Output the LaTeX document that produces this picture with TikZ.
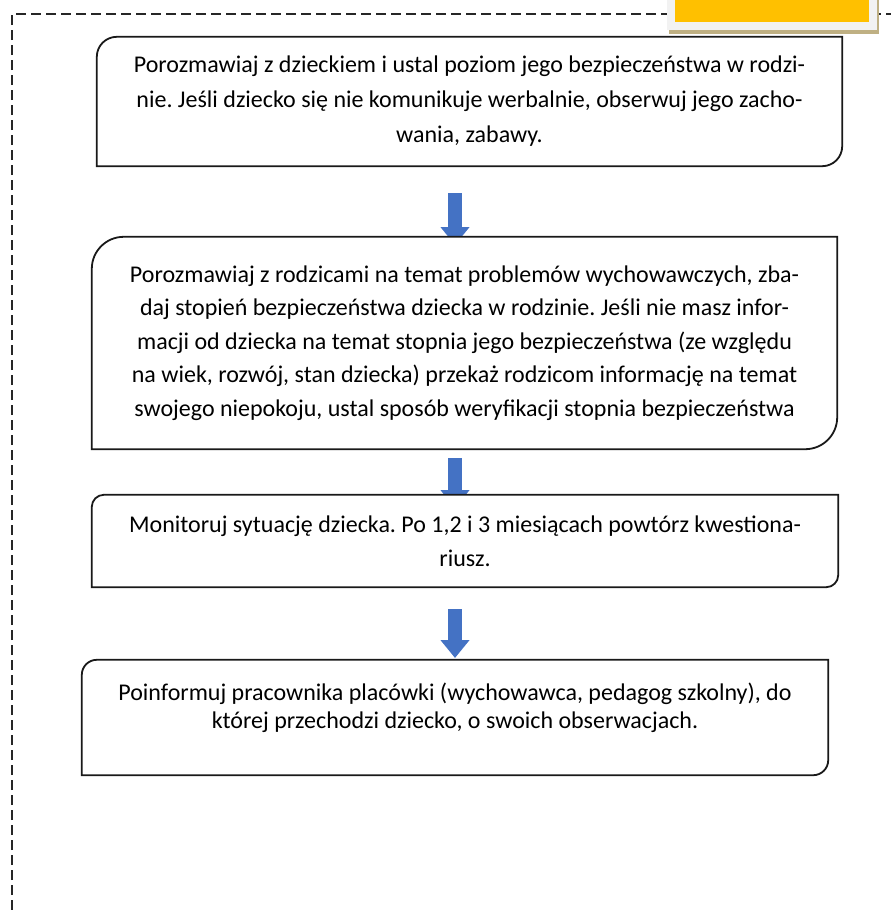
\documentclass[tikz,border=0pt]{standalone}
\usepackage{fontspec}
\setmainfont{Carlito}
\frenchspacing
\usetikzlibrary{arrows.meta,shadows}
\definecolor{tabyellow}{HTML}{FFC000}
\definecolor{tabgray}{HTML}{F2F2F2}
\definecolor{tabshadow}{HTML}{BFB083}
\definecolor{flowblue}{HTML}{4472C4}
\begin{document}
\begin{tikzpicture}[x=1pt,y=-1pt,
    stepbox/.style={text=black, align=center, fill=white, inner sep=0pt, minimum width=745pt},
    boxline/.style={draw=black!90, line width=1.8pt},
    flow/.style={flowblue, line width=14pt, -{Triangle[length=18pt,width=28pt]}},
    frameline/.style={draw=black!85, line width=1.8pt, dash pattern=on 10pt off 5pt},
    tabnode/.style={fill=tabyellow, draw=tabgray, line width=8pt, inner sep=0pt,
      minimum width=202pt, minimum height=36pt,
      drop shadow={shadow xshift=2pt, shadow yshift=-4pt, fill=tabshadow, draw=tabshadow, line width=8pt, opacity=1}}]
    \useasboundingbox (0,0) rectangle (891,910);
    \draw[frameline] (12,910) -- (12,14) -- (891,14);
    \node[tabnode] (tab) at (772,8) {};
    \coordinate (a1s) at (455,193);
    \coordinate (a1e) at (455,245);
    \coordinate (a2s) at (455,458);
    \coordinate (a2e) at (455,508);
    \coordinate (a3s) at (455,609);
    \coordinate (a3e) at (455,658);
    \path%
      (a1s) edge [flow] (a1e)
      (a2s) edge [flow] (a2e)
      (a3s) edge [flow] (a3e);
    \node[stepbox, minimum height=129pt, font=\fontsize{24pt}{35pt}\selectfont] (b1) at (469.5,101.5)
      {Porozmawiaj z dzieckiem i ustal poziom jego bezpieczeństwa w rodzi-\\nie. Jeśli dziecko się nie komunikuje werbalnie, obserwuj jego zacho-\\wania, zabawy.};
    \node[stepbox, minimum height=212pt, font=\fontsize{24pt}{33.5pt}\selectfont] (b2) at (464.5,343)
      {Porozmawiaj z rodzicami na temat problemów wychowawczych, zba-\\daj stopień bezpieczeństwa dziecka w rodzinie. Jeśli nie masz infor-\\macji od dziecka na temat stopnia jego bezpieczeństwa (ze względu\\na wiek, rozwój, stan dziecka) przekaż rodzicom informację na temat\\swojego niepokoju, ustal sposób weryfikacji stopnia bezpieczeństwa};
    \node[stepbox, minimum width=746pt, minimum height=92pt, font=\fontsize{24pt}{34pt}\selectfont] (b3) at (465,541)
      {Monitoruj sytuację dziecka. Po 1,2 i 3 miesiącach powtórz kwestiona-\\riusz.};
    \node[stepbox, minimum width=746pt, minimum height=115pt, text depth=24pt, font=\fontsize{24pt}{28pt}\selectfont] (b4) at (455,717.5)
      {Poinformuj pracownika placówki (wychowawca, pedagog szkolny), do\\której przechodzi dziecko, o swoich obserwacjach.};
    \foreach \n/\r in {b1/20pt,b2/32pt,b3/12pt,b4/15pt}
      \draw[boxline] (\n.south west) -- ([yshift=-\r]\n.north west) arc[start angle=180,end angle=90,radius=\r]
        -- (\n.north east) -- ([yshift=\r]\n.south east) arc[start angle=0,end angle=-90,radius=\r] -- cycle;
\end{tikzpicture}
\end{document}
